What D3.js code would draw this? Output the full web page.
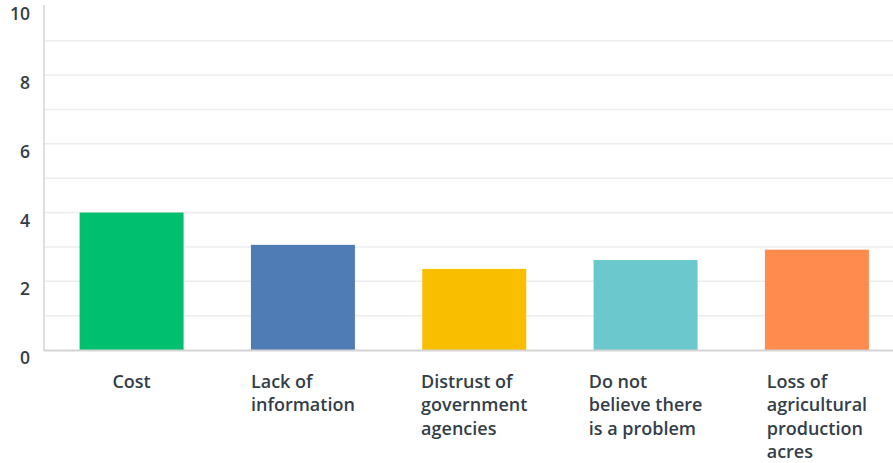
<!DOCTYPE html>
<html>
<head>
<meta charset="utf-8">
<script src="https://cdn.jsdelivr.net/npm/d3@7"></script>
<style>
  html, body { margin: 0; padding: 0; background: #fff; }
  svg { display: block; }
</style>
</head>
<body>
<svg id="chart" width="893" height="463"></svg>
<script>
// Reasons given, average score per reason
const categories = [
  ["Cost"],
  ["Lack of", "information"],
  ["Distrust of", "government", "agencies"],
  ["Do not", "believe there", "is a problem"],
  ["Loss of", "agricultural", "production", "acres"]
];
const values = [4.0, 3.06, 2.36, 2.62, 2.92];
const colors = ["#00bf6f", "#507cb6", "#f9be00", "#6bc8cd", "#ff8b4f"];
const yTicks = [0, 2, 4, 6, 8, 10];
const gridValues = [1, 2, 3, 4, 5, 6, 7, 8, 9];

const W = 893, H = 463;
const svg = d3.select("#chart");
const font = "'Open Sans', Lato, sans-serif";
const textColor = "#333e48";

const plotLeft = 44, plotRight = 893;
const y = d3.scaleLinear().domain([0, 10]).range([350, 6.4]);
const x = d3.scaleBand()
  .domain(d3.range(categories.length))
  .range([46, 902.5])
  .paddingInner(0.393)
  .paddingOuter(0.196);

// horizontal gridlines
svg.append("g").selectAll("line")
  .data(gridValues)
  .join("line")
  .attr("x1", plotLeft).attr("x2", plotRight)
  .attr("y1", d => y(d)).attr("y2", d => y(d))
  .attr("stroke", "#ececec").attr("stroke-width", 1.5);

// bars
svg.append("g").selectAll("rect")
  .data(values)
  .join("rect")
  .attr("x", (d, i) => x(i))
  .attr("width", x.bandwidth())
  .attr("y", d => y(d))
  .attr("height", d => y(0) - y(d))
  .attr("fill", (d, i) => colors[i]);

// axes lines
svg.append("line")
  .attr("x1", plotLeft).attr("x2", plotLeft)
  .attr("y1", 5).attr("y2", y(0) + 1)
  .attr("stroke", "#d4d4d4").attr("stroke-width", 1.5);
svg.append("line")
  .attr("x1", plotLeft).attr("x2", plotRight)
  .attr("y1", y(0) + 0.5).attr("y2", y(0) + 0.5)
  .attr("stroke", "#d4d4d4").attr("stroke-width", 2);

// y tick labels
svg.append("g").selectAll("text")
  .data(yTicks)
  .join("text")
  .attr("x", 30)
  .attr("y", d => y(d) + 14)
  .attr("text-anchor", "end")
  .attr("font-family", font)
  .attr("font-size", 17.5)
  .attr("font-weight", 600)
  .attr("fill", textColor)
  .text(d => d);

// category labels: left-aligned lines, block centred under each bar
const labels = svg.append("g").selectAll("text")
  .data(categories)
  .join("text")
  .attr("font-family", font)
  .attr("font-size", 18)
  .attr("font-weight", 600)
  .attr("fill", textColor)
  .attr("y", 388);
labels.each(function(lines, i) {
  const t = d3.select(this);
  lines.forEach((ln, j) => {
    t.append("tspan").attr("x", 0).attr("dy", j === 0 ? 0 : 23.4).text(ln);
  });
  const bw = this.getBBox().width;
  const cx = x(i) + x.bandwidth() / 2;
  t.selectAll("tspan").attr("x", cx - bw / 2);
});
</script>
</body>
</html>
